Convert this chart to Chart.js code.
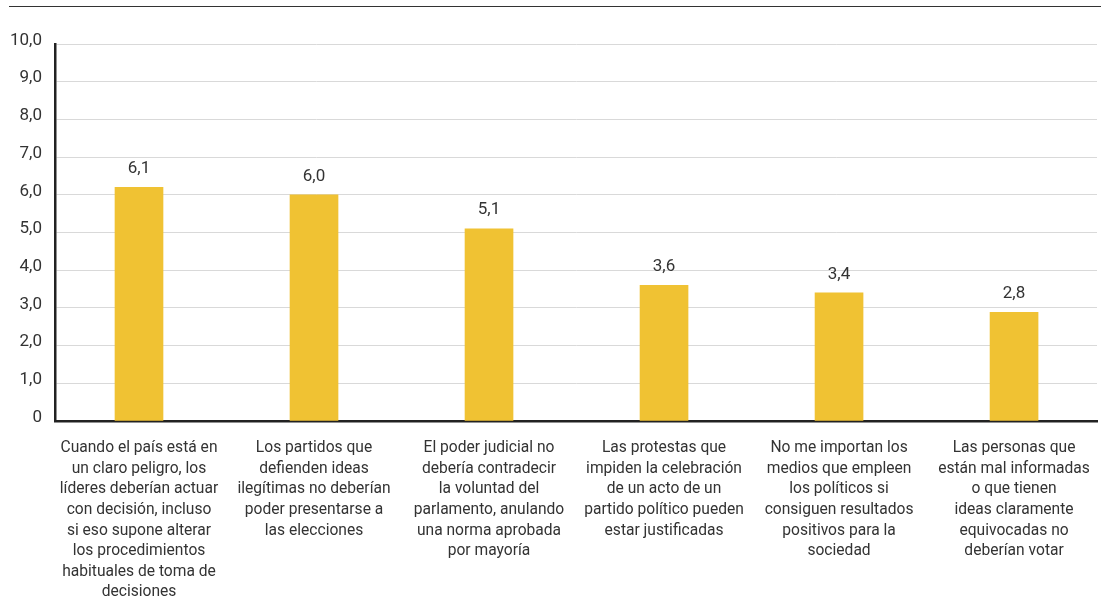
<!DOCTYPE html>
<html>
<head>
<meta charset="utf-8">
<script src="https://cdn.jsdelivr.net/npm/chart.js@4/dist/chart.umd.min.js"></script>
<style>
  html, body { margin: 0; padding: 0; background: #fff; }
  #wrap { position: relative; width: 1101px; height: 600px; }
  #topline { position: absolute; left: 9px; right: 0; top: 6px; height: 0; border-top: 1.5px solid #333; }
  canvas { position: absolute; left: 0; top: 0; }
</style>
</head>
<body>
<div id="wrap">
  <div id="topline"></div>
  <canvas id="c" width="1101" height="600"></canvas>
</div>
<script>
// Categories (split in lines as in the source)
const categories = [
  ["Cuando el país está en", "un claro peligro, los", "líderes deberían actuar", "con decisión, incluso", "si eso supone alterar", "los procedimientos", "habituales de toma de", "decisiones"],
  ["Los partidos que", "defienden ideas", "ilegítimas no deberían", "poder presentarse a", "las elecciones"],
  ["El poder judicial no", "debería contradecir", "la voluntad del", "parlamento, anulando", "una norma aprobada", "por mayoría"],
  ["Las protestas que", "impiden la celebración", "de un acto de un", "partido político pueden", "estar justificadas"],
  ["No me importan los", "medios que empleen", "los políticos si", "consiguen resultados", "positivos para la", "sociedad"],
  ["Las personas que", "están mal informadas", "o que tienen", "ideas claramente", "equivocadas no", "deberían votar"]
];
// Bar values
const values = [6.2, 6.0, 5.1, 3.6, 3.4, 2.88];
// Value labels as printed above the bars
const valueLabels = ["6,1", "6,0", "5,1", "3,6", "3,4", "2,8"];
// Y axis ticks
const yMin = 0, yMax = 10, yStep = 1;

const FONT = "Roboto, 'Noto Sans', sans-serif";
const TEXT = "#333333";
const fmtY = (v) => v === 0 ? '0' : v.toFixed(1).replace('.', ',');

const customLabels = {
  id: 'customLabels',
  afterDatasetsDraw(chart) {
    const ctx = chart.ctx;
    const meta = chart.getDatasetMeta(0);
    ctx.save();
    ctx.font = "17px " + FONT;
    ctx.fillStyle = TEXT;
    ctx.textAlign = 'center';
    ctx.textBaseline = 'middle';
    meta.data.forEach((bar, i) => {
      ctx.fillText(valueLabels[i], bar.x, bar.y - 18.5);
    });
    // y tick labels
    const ys = chart.scales.y;
    ctx.textAlign = 'right';
    ys.ticks.forEach((t) => {
      const y = ys.getPixelForValue(t.value);
      ctx.fillText(fmtY(t.value), chart.chartArea.left - 13, y - 3.5);
    });
    ctx.restore();
  }
};

new Chart(document.getElementById('c'), {
  type: 'bar',
  data: {
    datasets: [{
      data: values.map((v, i) => ({ x: i, y: v })),
      backgroundColor: '#F0C233',
      borderWidth: 0,
      barThickness: 48
    }]
  },
  options: {
    responsive: false,
    animation: false,
    devicePixelRatio: 1,
    layout: { padding: { top: 44, right: 4, left: 0, bottom: 0 } },
    plugins: { legend: { display: false }, tooltip: { enabled: false } },
    scales: {
      x: {
        type: 'linear',
        min: -0.48,
        max: 5.474,
        offset: false,
        grid: { display: false, drawTicks: false },
        border: { display: true, color: '#222222', width: 2.5 },
        afterBuildTicks(scale) {
          scale.ticks = categories.map((_, i) => ({ value: i }));
        },
        ticks: {
          color: TEXT,
          font: { family: FONT, size: 15.6, lineHeight: 1.32 },
          padding: 17,
          maxRotation: 0,
          autoSkip: false,
          callback: (v) => categories[v] || ''
        },
        afterFit(scale) {
          scale.height = 179;
          scale.paddingLeft = 0;
          scale.paddingRight = 0;
        }
      },
      y: {
        min: yMin, max: yMax,
        grid: { color: '#d9d9d9', lineWidth: 1, drawTicks: false },
        border: { display: true, color: '#222222', width: 2.5 },
        ticks: {
          stepSize: yStep,
          display: false
        },
        afterFit(scale) { scale.width = 55; }
      }
    }
  },
  plugins: [customLabels]
});
</script>
</body>
</html>
